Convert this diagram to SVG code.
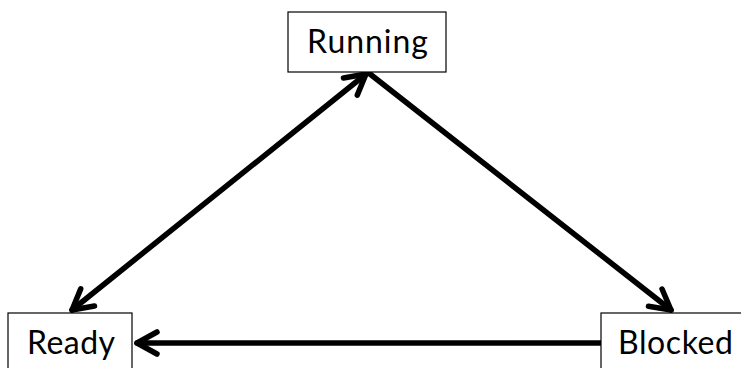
<svg xmlns="http://www.w3.org/2000/svg" width="741" height="368" viewBox="0 0 741 368">
  <style>
    .box { fill: #ffffff; stroke: #000000; stroke-width: 1.2; }
    .label { font-family: Lato, "Open Sans", "Liberation Sans", sans-serif; font-size: 32px; fill: #000000; }
    .edge { fill: none; stroke: #000000; stroke-width: 5.5; stroke-linecap: round; }
  </style>
  <defs>
    <marker id="chevron" viewBox="-26 -16 30 32" markerWidth="30" markerHeight="32" refX="0" refY="0" markerUnits="userSpaceOnUse" orient="auto-start-reverse">
      <path d="M-20,-11 L0,0 L-20,11" fill="none" stroke="#000000" stroke-width="5.5" stroke-linecap="round" stroke-linejoin="round"/>
    </marker>
  </defs>
  <rect width="741" height="368" fill="#ffffff"/>

  <g id="connectors">
    <!-- Ready <-> Running -->
    <line class="edge" x1="72" y1="310" x2="366" y2="74" marker-start="url(#chevron)" marker-end="url(#chevron)"/>
    <!-- Running -> Blocked -->
    <line class="edge" x1="370" y1="74" x2="671" y2="310" marker-end="url(#chevron)"/>
    <!-- Blocked -> Ready -->
    <line class="edge" x1="601" y1="343" x2="137" y2="343" marker-end="url(#chevron)"/>
  </g>

  <g id="running">
    <rect class="box" x="288" y="12" width="158" height="60"/>
    <text class="label" x="307" y="53" textLength="121">Running</text>
  </g>

  <g id="ready">
    <rect class="box" x="8" y="313" width="124" height="70"/>
    <text class="label" x="27" y="354" textLength="88">Ready</text>
  </g>

  <g id="blocked">
    <rect class="box" x="601" y="313" width="160" height="70"/>
    <text class="label" x="618" y="354" textLength="115">Blocked</text>
  </g>
</svg>
